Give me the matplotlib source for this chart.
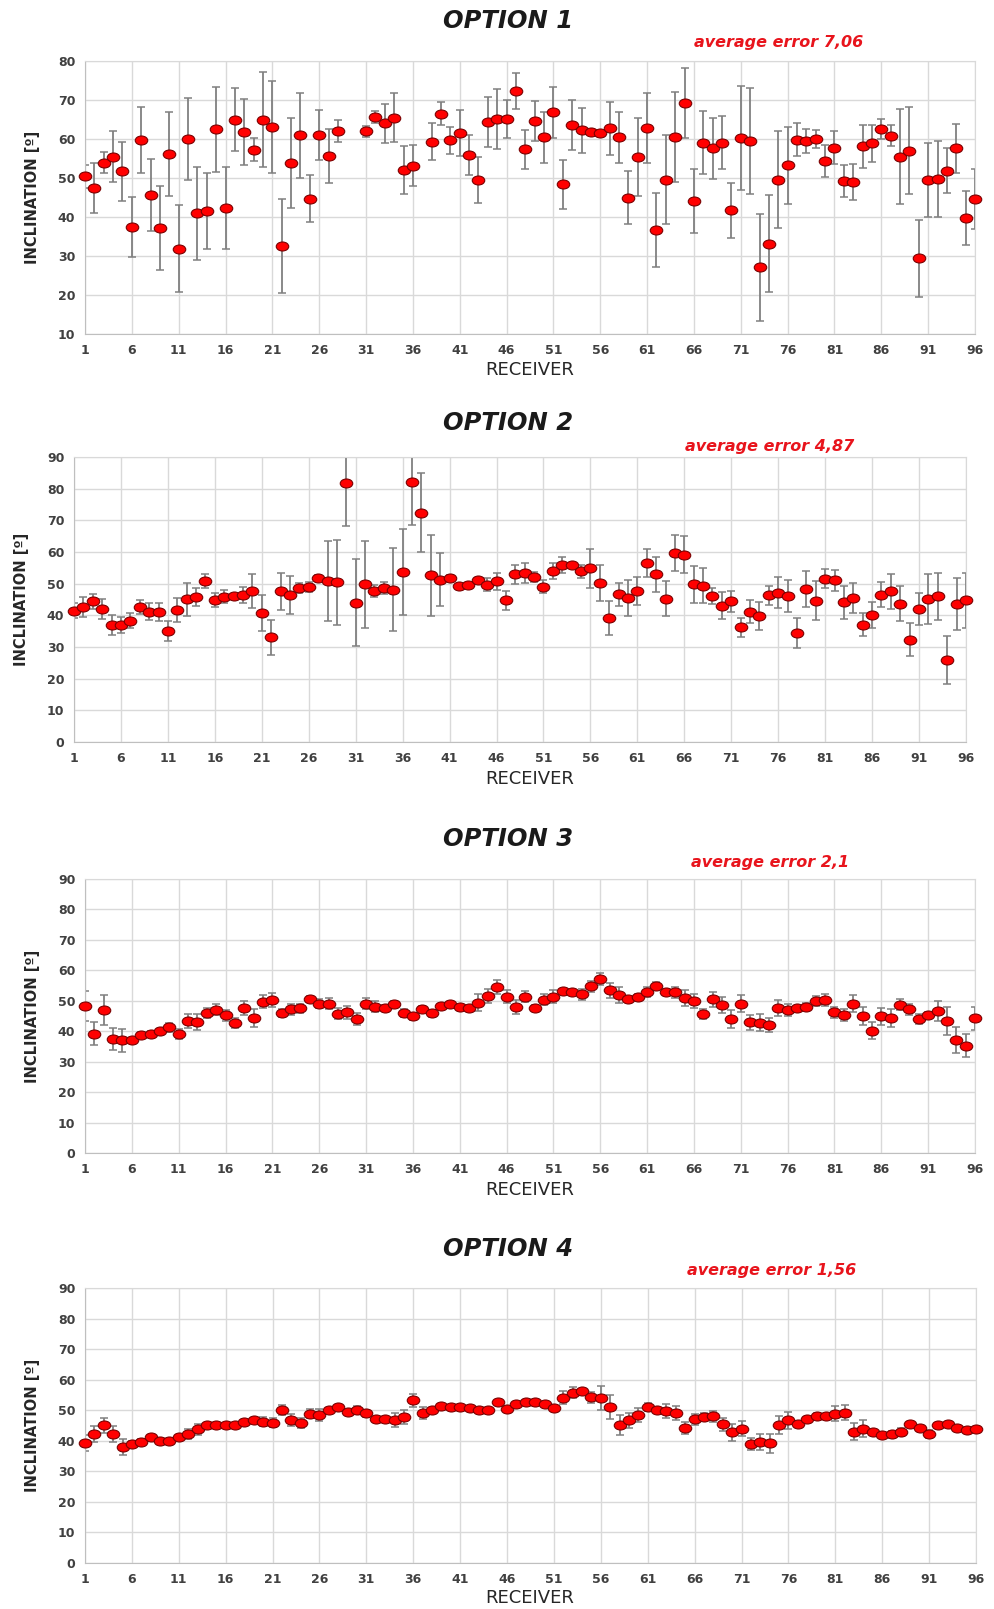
import numpy as np
import matplotlib
matplotlib.use("Agg")
import matplotlib.pyplot as plt
from matplotlib.path import Path
from matplotlib.transforms import Affine2D

nan = np.nan
receivers = np.arange(1, 97)
tick_labels = [str(v) for v in range(1, 97, 5)]

titles = ["OPTION 1", "OPTION 2", "OPTION 3", "OPTION 4"]
avg_errors = ["average error 7,06", "average error 4,87", "average error 2,1", "average error 1,56"]

opt1_mean = [50.4, 47.5, 53.9, 55.5, 51.7, 37.5, 59.7, 45.6, 37.2, 56.2,
             31.9, 60.0, 40.9, 41.5, 62.5, 42.4, 65.0, 61.8, 57.3, 65.0,
             63.2, 32.6, 53.9, 60.9, 44.7, 61.0, 55.6, 62.1, nan, nan,
             62.0, 65.7, 64.0, 65.5, 52.1, 53.2, nan, 59.3, 66.5, 59.7,
             61.5, 55.8, 49.5, 64.3, 65.1, 65.1, 72.3, 57.4, 64.6, 60.4,
             66.8, 48.4, 63.7, 62.2, 61.8, 61.5, 62.8, 60.4, 45.0, 55.4,
             62.8, 36.7, 49.5, 60.5, 69.2, 44.1, 59.1, 57.6, 59.1, 41.7,
             60.3, 59.6, 27.1, 33.2, 49.6, 53.3, 59.8, 59.5, 60.0, 54.4,
             57.8, 49.2, 48.9, 58.1, 58.9, 62.6, 60.8, 55.5, 57.0, 29.4,
             49.5, 49.7, 51.9, 57.6, 39.7, 44.5]
opt1_err = [2.9, 6.4, 2.7, 6.5, 7.5, 7.7, 8.5, 9.3, 10.7, 10.8,
            11.1, 10.5, 11.9, 9.7, 10.9, 10.5, 8.1, 8.5, 2.9, 12.1,
            11.8, 12.0, 11.5, 10.9, 6.0, 6.5, 6.9, 2.9, nan, nan,
            1.4, 1.5, 5.0, 6.2, 6.1, 5.3, nan, 4.8, 2.9, 3.5,
            5.9, 5.1, 5.9, 6.4, 7.6, 4.9, 4.7, 5.0, 5.2, 6.5,
            6.5, 6.3, 6.4, 5.8, 0.5, 0.5, 6.8, 6.5, 6.8, 9.9,
            8.9, 9.4, 11.4, 11.5, 8.9, 8.1, 8.0, 7.9, 6.9, 7.1,
            13.3, 13.6, 13.7, 12.4, 12.4, 9.9, 4.2, 3.1, 2.2, 4.1,
            4.3, 4.1, 4.6, 5.6, 4.8, 2.5, 2.7, 12.2, 11.2, 9.9,
            9.5, 9.7, 5.8, 6.2, 7.0, 7.7]

opt2_mean = [41.5, 42.7, 44.4, 42.1, 37.0, 36.9, 38.3, 42.6, 41.2, 41.1,
             35.1, 41.7, 45.1, 45.8, 50.8, 44.8, 45.9, 46.2, 46.5, 47.7,
             40.8, 33.1, 47.6, 46.3, 48.6, 48.9, 51.7, 50.8, 50.4, 81.8,
             44.0, 49.8, 47.7, 48.6, 48.1, 53.7, 82.0, 72.4, 52.6, 51.3,
             51.7, 49.4, 49.6, 51.3, 49.7, 50.8, 44.7, 52.9, 53.4, 52.1,
             49.1, 54.0, 55.9, 55.9, 53.9, 54.9, 50.2, 39.1, 46.6, 45.5,
             47.7, 56.6, 52.9, 45.2, 59.8, 59.2, 49.8, 49.3, 46.0, 43.1,
             44.4, 36.2, 41.2, 39.8, 46.3, 47.2, 46.1, 34.5, 48.3, 44.6,
             51.5, 51.1, 44.1, 45.4, 37.1, 40.1, 46.5, 47.6, 43.7, 32.3,
             42.0, 45.2, 46.0, 25.9, 43.6, 44.7]
opt2_err = [2.3, 3.2, 2.4, 3.2, 3.2, 2.5, 2.4, 2.3, 2.8, 2.8,
            3.1, 3.8, 5.2, 2.9, 2.2, 2.1, 2.0, 0.5, 2.5, 5.4,
            5.6, 5.5, 5.8, 6.0, 1.5, 1.6, 1.0, 12.7, 13.4, 13.5,
            13.8, 13.8, 1.8, 1.9, 13.2, 13.7, 13.4, 12.4, 12.8, 8.5,
            1.0, 0.5, 0.5, 0.5, 2.1, 2.7, 2.9, 3.1, 3.2, 1.7,
            2.1, 2.6, 2.5, 0.5, 2.0, 6.2, 5.8, 5.4, 3.5, 5.6,
            4.3, 4.5, 5.5, 5.5, 5.7, 5.9, 5.8, 5.5, 2.5, 4.4,
            3.4, 3.0, 3.6, 4.3, 3.1, 4.9, 5.1, 4.8, 5.6, 6.2,
            3.0, 3.3, 5.2, 4.7, 3.5, 4.1, 3.9, 5.5, 5.5, 5.2,
            4.9, 7.9, 7.5, 7.5, 8.2, 8.6]

opt3_mean = [48.2, 39.2, 47.0, 37.4, 37.0, 37.2, 38.8, 39.1, 40.1, 41.3,
             39.1, 43.2, 43.0, 45.9, 47.1, 45.3, 42.8, 47.6, 44.3, 49.7,
             50.4, 46.0, 47.2, 47.5, 50.5, 49.1, 49.1, 45.7, 46.2, 44.0,
             49.1, 48.1, 47.6, 48.9, 46.0, 44.9, 47.4, 45.9, 48.4, 48.8,
             48.0, 47.5, 49.4, 51.6, 54.4, 51.4, 48.0, 51.4, 47.6, 50.4,
             51.3, 53.3, 53.0, 52.1, 54.7, 57.2, 53.4, 52.0, 50.6, 51.1,
             52.9, 54.9, 53.0, 52.8, 51.0, 50.0, 45.7, 50.5, 48.5, 43.9,
             49.1, 42.9, 42.8, 42.1, 47.6, 47.0, 47.5, 48.1, 49.9, 50.3,
             46.2, 45.3, 49.0, 45.0, 40.2, 44.9, 44.4, 48.7, 47.2, 43.9,
             45.3, 46.5, 43.2, 37.1, 35.3, 44.2]
opt3_err = [4.9, 3.7, 4.8, 3.7, 3.8, 0.5, 1.0, 1.0, 0.5, 1.5,
            1.7, 2.3, 2.7, 1.7, 1.7, 1.8, 1.6, 2.4, 2.9, 2.1,
            2.3, 1.4, 1.8, 1.4, 1.0, 1.6, 1.8, 1.8, 2.2, 1.9,
            1.9, 1.8, 1.0, 1.0, 1.2, 1.2, 1.0, 1.2, 0.5, 0.5,
            0.5, 0.8, 2.7, 2.4, 2.3, 2.2, 2.4, 1.7, 1.0, 1.8,
            2.1, 0.7, 0.7, 1.7, 1.8, 1.9, 2.5, 2.6, 0.5, 1.2,
            1.6, 1.3, 1.0, 1.8, 2.6, 2.3, 1.6, 2.5, 2.6, 3.0,
            2.9, 2.4, 2.7, 2.3, 2.5, 2.0, 0.5, 1.2, 1.6, 2.0,
            1.9, 2.0, 2.8, 2.9, 2.7, 2.8, 3.0, 1.8, 1.8, 1.6,
            1.0, 3.3, 4.6, 4.2, 3.9, 3.9]

opt4_mean = [39.2, 42.3, 45.1, 42.3, 38.1, 39.0, 39.7, 41.3, 39.8, 39.9,
             41.3, 42.3, 43.7, 45.1, 45.1, 45.1, 45.1, 46.1, 46.9, 46.2,
             45.9, 50.1, 46.8, 45.8, 48.9, 48.5, 50.1, 51.0, 49.5, 50.1,
             49.0, 47.0, 47.1, 46.9, 47.8, 53.2, 49.0, 50.0, 51.5, 51.1,
             51.1, 50.6, 50.0, 50.0, 52.6, 50.5, 51.9, 52.8, 52.8, 51.9,
             50.6, 54.1, 55.8, 56.3, 54.2, 54.0, 51.1, 45.1, 46.7, 48.3,
             51.1, 50.2, 49.7, 49.2, 44.1, 47.0, 47.7, 48.0, 45.4, 42.8,
             44.0, 39.0, 39.7, 39.2, 45.2, 46.7, 45.4, 47.0, 48.2, 48.0,
             48.9, 49.2, 42.9, 44.0, 43.0, 41.8, 42.1, 42.9, 45.5, 44.1,
             42.2, 45.1, 45.4, 44.3, 43.4, 44.0]
opt4_err = [2.6, 2.7, 2.5, 2.7, 2.6, 1.0, 1.0, 0.5, 0.5, 0.5,
            0.5, 1.6, 1.7, 0.5, 0.5, 0.5, 0.5, 0.5, 0.5, 1.5,
            1.5, 1.7, 1.9, 1.7, 1.4, 1.9, 0.5, 0.5, 0.5, 1.3,
            1.2, 0.5, 0.5, 2.3, 2.3, 2.1, 2.0, 0.8, 0.5, 0.5,
            0.5, 0.5, 0.5, 0.5, 0.5, 0.5, 0.5, 0.5, 0.5, 0.5,
            0.8, 2.1, 1.8, 0.5, 1.7, 3.9, 3.9, 3.3, 2.4, 2.3,
            1.4, 0.5, 2.4, 2.3, 1.9, 1.7, 1.3, 1.7, 2.2, 2.8,
            2.5, 2.0, 2.6, 3.1, 2.9, 2.8, 0.8, 0.5, 0.9, 0.5,
            2.4, 2.5, 2.8, 2.7, 0.5, 0.5, 1.2, 1.4, 0.5, 0.8,
            1.2, 0.5, 0.5, 0.5, 0.5, 0.5]

means = [opt1_mean, opt2_mean, opt3_mean, opt4_mean]
errs = [opt1_err, opt2_err, opt3_err, opt4_err]
y_ranges = [(10, 80), (0, 90), (0, 90), (0, 90)]

# layout in pixels of the 995x1609 figure: left, right, top, bottom of each plot area
W, H = 995, 1609
boxes = [(85, 975, 61, 334), (74, 966, 457, 742), (85, 975, 879, 1153), (85, 976, 1288, 1563)]
title_y = [21, 423, 839, 1249]
avg_pos = [(779, 43), (770, 447), (770, 862), (772, 1271)]
xlabel_y = [370, 779, 1190, 1598]
ylabel_x = [33, 22, 33, 33]

# red ellipse marker, wider than tall
ellipse = Path.unit_circle().transformed(Affine2D().scale(1.0, 0.72))

fig = plt.figure(figsize=(W / 100, H / 100), dpi=100)
fig.patch.set_facecolor("white")

for i in range(4):
    l, r, t, b = boxes[i]
    ax = fig.add_axes([l / W, 1 - b / H, (r - l) / W, (b - t) / H])
    ax.errorbar(receivers, means[i], yerr=errs[i], fmt="none", ecolor="#808080",
                elinewidth=1.3, capsize=2.8, capthick=1.1, zorder=2)
    ax.plot(receivers, means[i], linestyle="none", marker=ellipse, markersize=9,
            markerfacecolor="#ff0000", markeredgecolor="#7a0000", markeredgewidth=0.8,
            zorder=3, clip_on=False)

    lo, hi = y_ranges[i]
    ax.set_xlim(1, 96)
    ax.set_ylim(lo, hi)
    ax.set_xticks(range(1, 97, 5))
    ax.set_xticklabels(tick_labels)
    ax.set_yticks(range(lo, hi + 1, 10))
    ax.grid(True, color="#d9d9d9", linewidth=1.0)
    ax.set_axisbelow(True)
    ax.tick_params(length=0, labelsize=9, labelcolor="#404040", pad=7)
    for lab in ax.get_xticklabels() + ax.get_yticklabels():
        lab.set_fontweight("semibold")
    for side in ["top", "right"]:
        ax.spines[side].set_color("#d9d9d9")
    for side in ["left", "bottom"]:
        ax.spines[side].set_color("#bfbfbf")

    fig.text(508 / W, 1 - title_y[i] / H, titles[i], ha="center", va="center",
             fontsize=17.5, fontweight="bold", fontstyle="italic", color="#1a1a1a")
    ax_x, ax_y = avg_pos[i]
    fig.text(ax_x / W, 1 - ax_y / H, avg_errors[i], ha="center", va="center",
             fontsize=11.5, fontweight="bold", fontstyle="italic", color="#e8141c")
    fig.text(530 / W, 1 - xlabel_y[i] / H, "RECEIVER", ha="center", va="center",
             fontsize=13, fontweight="medium", color="#262626")
    fig.text(ylabel_x[i] / W, 1 - ((t + b) / 2) / H, "INCLINATION [º]", ha="center", va="center",
             rotation=90, fontsize=10.5, fontweight="bold", color="#262626",
             family=["Liberation Sans Narrow", "DejaVu Sans"])

fig.savefig("out.png", dpi=100, facecolor="white")
